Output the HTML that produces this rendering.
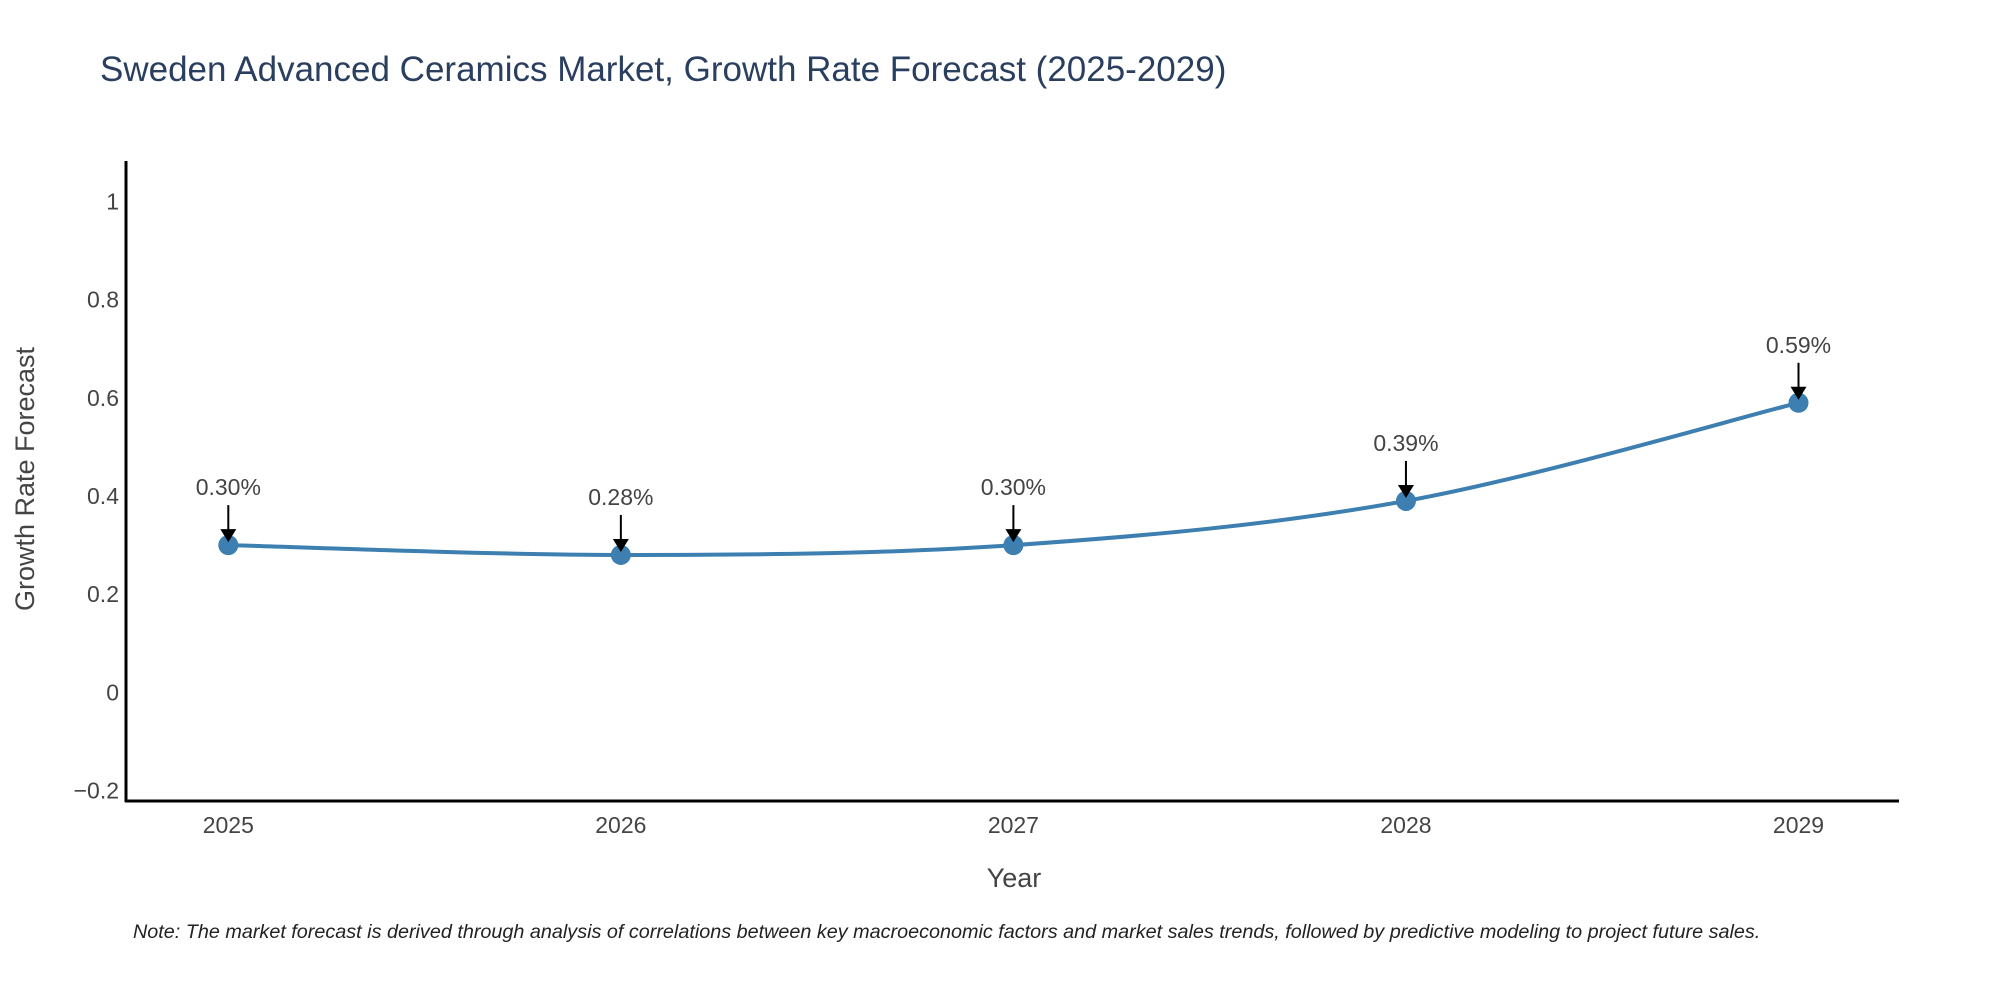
<!DOCTYPE html>
<html><head><meta charset="utf-8"><style>
html,body{margin:0;padding:0;background:#fff;}
svg text{font-family:"Liberation Sans",sans-serif;}
</style></head><body>
<svg id="chart" width="2000" height="1000" xmlns="http://www.w3.org/2000/svg">
<rect width="2000" height="1000" fill="#fff"/>
<text x="100" y="81" font-size="35" fill="#2a3f5f">Sweden Advanced Ceramics Market, Growth Rate Forecast (2025-2029)</text>
<g id="yticks"></g>
<g id="xticks"></g>
<g id="series"></g>
<g id="annots"></g>
<line x1="126" y1="161" x2="126" y2="802" stroke="#000" stroke-width="3"/>
<line x1="125" y1="801" x2="1899" y2="801" stroke="#000" stroke-width="3"/>
<text x="1014" y="887" font-size="27" fill="#444" text-anchor="middle">Year</text>
<text transform="translate(34,479) rotate(-90)" font-size="27" fill="#444" text-anchor="middle">Growth Rate Forecast</text>
<text x="133" y="938" font-size="19.8" font-style="italic" fill="#222">Note: The market forecast is derived through analysis of correlations between key macroeconomic factors and market sales trends, followed by predictive modeling to project future sales.</text>
</svg>
<script>
const categories = ["2025","2026","2027","2028","2029"];
const values = [0.30, 0.28, 0.30, 0.39, 0.59];
const valueLabels = ["0.30%","0.28%","0.30%","0.39%","0.59%"];
const yTickValues = [-0.2, 0, 0.2, 0.4, 0.6, 0.8, 1];
const yTickLabels = ["\u22120.2","0","0.2","0.4","0.6","0.8","1"];

const NS = "http://www.w3.org/2000/svg";
const X0 = 228.3, X1 = 1798.5;
function xScale(i){ return X0 + (X1 - X0) * i / (categories.length - 1); }
function yScale(v){ return 201.5 + (1 - v) * 490.9; }
function mk(tag, attrs, parent){ const e = document.createElementNS(NS, tag); for (const k in attrs) e.setAttribute(k, attrs[k]); parent.appendChild(e); return e; }

const yt = document.getElementById('yticks');
yTickValues.forEach((v, i) => {
  const t = mk('text', {x: 119, y: yScale(v) + 8, 'font-size': 23, fill: '#444', 'text-anchor': 'end'}, yt);
  
  
  t.textContent = yTickLabels[i];
});
const xt = document.getElementById('xticks');
categories.forEach((c, i) => {
  const t = mk('text', {x: xScale(i), y: 833, 'font-size': 23, fill: '#444', 'text-anchor': 'middle'}, xt);
  
  
  t.textContent = c;
});

const pts = values.map((v, i) => [xScale(i), yScale(v)]);
let d = `M${pts[0][0]},${pts[0][1]}`;
const tension = 0.5 / 3;
for (let i = 0; i < pts.length - 1; i++) {
  const p0 = pts[Math.max(0, i - 1)], p1 = pts[i], p2 = pts[i + 1], p3 = pts[Math.min(pts.length - 1, i + 2)];
  const c1 = [p1[0] + (p2[0] - p0[0]) * tension, p1[1] + (p2[1] - p0[1]) * tension];
  const c2 = [p2[0] - (p3[0] - p1[0]) * tension, p2[1] - (p3[1] - p1[1]) * tension];
  d += ` C${c1[0]},${c1[1]} ${c2[0]},${c2[1]} ${p2[0]},${p2[1]}`;
}
const s = document.getElementById('series');
const line = mk('path', {d: d, fill: 'none', stroke: '#3d7fb0', 'stroke-width': 4}, s);


pts.forEach((p, i) => {
  const c = mk('circle', {cx: p[0], cy: p[1], r: 10, fill: '#3d7fb0'}, s);
  
  
});

const a = document.getElementById('annots');
pts.forEach((p, i) => {
  const g = mk('g', {}, a);
  
  
  mk('line', {x1: p[0], y1: p[1] - 40, x2: p[0], y2: p[1] - 14, stroke: '#000', 'stroke-width': 2}, g);
  mk('polygon', {points: `${p[0]-8},${p[1]-16} ${p[0]+8},${p[1]-16} ${p[0]},${p[1]-3}`, fill: '#000'}, g);
  const t = mk('text', {x: p[0], y: p[1] - 50, 'font-size': 23, fill: '#444', 'text-anchor': 'middle'}, g);
  
  
  t.textContent = valueLabels[i];
});
</script>
</body></html>
